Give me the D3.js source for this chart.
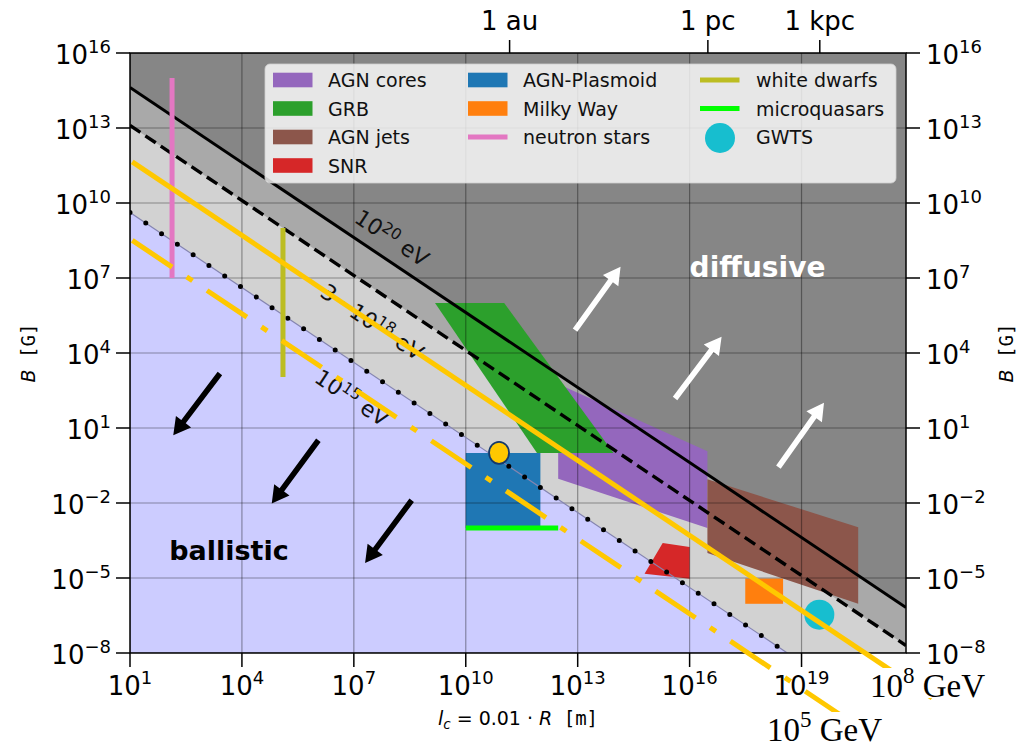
<!DOCTYPE html>
<html>
<head>
<meta charset="utf-8">
<script src="https://cdn.jsdelivr.net/npm/d3@7"></script>
<style>
  body { margin: 0; background: #ffffff; }
  svg { display: block; font-family: "DejaVu Sans", sans-serif; }
</style>
</head>
<body>
<svg id="chart" width="1019" height="747"></svg>
<script>
// ---------- data ----------
const lcRange = [10, 6.31e21];           // l_c = 0.01 R  [m]
const bRange = [1e-8, 1e16];             // B [G]
const xTickExps = [1, 4, 7, 10, 13, 16, 19];
const yTickExps = [-8, -5, -2, 1, 4, 7, 10, 13, 16];
const topTickLabels = ["1 au", "1 pc", "1 kpc"];
const topTickValues = [1.496e11, 3.086e16, 3.086e19];

// Hillas boundaries r_g = l_c : B at the two ends of the l_c range
const boundaryBStart = [4.17e14, 1.26e13, 4.17e9];   // 1e20 eV, 3e18 eV, 1e15 eV
const boundaryBEnd = [6.6e-7, 2.0e-8, 6.6e-12];
const boundaryLabelMain = ["10", "3 · 10", "10"];
const boundaryLabelSup = ["20", "18", "15"];
const boundaryLabelL = [1.05e8, 3.1e7, 8.9e6];
const boundaryLabelB = [4.0e8, 1.74e5, 1.6e2];

// proton energies in GeV
const gevLineL = [[11.5, 3.16e22], [11.5, 3.16e20]];
const gevLineB = [[4.4e11, 1.6e-10], [3.2e8, 1.17e-11]];
const gevLabelSup = ["8", "5"];

// source classes
const agnCores = [[3e12, 575], [3e16, 1.17], [3e16, 1e-3], [3e12, 0.093]];
const grb = [[1.5e9, 1e6], [1.07e11, 1e6], [9.1e13, 1], [8.1e11, 1]];
const agnJets = [[3e16, 0.089], [3.3e20, 1.07e-3], [3.3e20, 9.3e-7], [3e16, 1e-4]];
const snr = [[1.9e15, 2.5e-4], [1e16, 1.74e-4], [1e16, 9.3e-6], [6.2e14, 1.48e-5]];
const agnPlasmoid = [[1e10, 1e-3], [1e12, 1]];       // [l_min, B_min], [l_max, B_max]
const milkyWay = [[3.1e17, 9.3e-7], [3.2e18, 9.5e-6]];
const neutronStars = [[1.34e2, 1e7], [1.34e2, 1e15]];
const whiteDwarfs = [[1.26e5, 1.1e3], [1.26e5, 1e9]];
const microquasars = [[1e10, 1e-3], [3e12, 1e-3]];
const gwts = [3e19, 3.4e-7];
const plasmoidMarker = [7.8e10, 1.02];

// regime arrows: [tail, tip]
const ballisticArrows = [
  [[2570, 1514], [144.5, 5.13]],
  [[1.12e6, 3.24], [6.3e4, 9.5e-3]],
  [[3.55e8, 1.29e-2], [2.0e7, 4.0e-5]]
];
const diffusiveArrows = [
  [[8.5e12, 8.3e4], [1.41e14, 2.8e7]],
  [[4.07e15, 151], [7.2e16, 4.5e4]],
  [[2.4e18, 0.275], [4.0e19, 102]]
];
const regimeLabels = ["diffusive", "ballistic"];
const regimeLabelPos = [[1.0e16, 1.1e7], [112, 5.4e-5]];

const legendNames = [
  ["AGN cores", "GRB", "AGN jets", "SNR"],
  ["AGN-Plasmoid", "Milky Way", "neutron stars"],
  ["white dwarfs", "microquasars", "GWTS"]
];

// ---------- layout ----------
const pLeft = 130, pRight = 906, pTop = 53, pBottom = 653;
const svg = d3.select("#chart");
const x = d3.scaleLog().domain(lcRange).range([pLeft, pRight]);
const y = d3.scaleLog().domain(bRange).range([pBottom, pTop]);

const colors = {
  "AGN cores": "#9467bd", "GRB": "#2ca02c", "AGN jets": "#8c564b", "SNR": "#d62728",
  "AGN-Plasmoid": "#1f77b4", "Milky Way": "#ff7f0e", "neutron stars": "#e377c2",
  "white dwarfs": "#bcbd22", "microquasars": "#00ff00", "GWTS": "#17becf"
};
const gold = "#ffc800";

svg.append("defs").append("clipPath").attr("id", "plotClip")
  .append("rect").attr("x", pLeft).attr("y", pTop).attr("width", pRight - pLeft).attr("height", pBottom - pTop);

const plot = svg.append("g").attr("clip-path", "url(#plotClip)");

// ---------- regime backgrounds ----------
plot.append("rect").attr("x", pLeft).attr("y", pTop).attr("width", pRight - pLeft).attr("height", pBottom - pTop)
  .attr("fill", "#868686");
const bandFills = ["#a9a9a9", "#d2d2d2", "#ccccff"];
const boundaryPts = boundaryBStart.map((b0, i) => [[lcRange[0], b0], [lcRange[1], boundaryBEnd[i]]]);
const below = d3.area().x(d => x(d[0])).y0(pBottom + 5).y1(d => y(d[1]));
boundaryPts.forEach((pts, i) => {
  plot.append("path").attr("d", below(pts)).attr("fill", bandFills[i]);
});

// ---------- source regions ----------
const poly = pts => "M" + pts.map(p => [x(p[0]), y(p[1])].join(",")).join("L") + "Z";
plot.append("path").attr("d", poly(agnCores)).attr("fill", colors["AGN cores"]);
plot.append("path").attr("d", poly(grb)).attr("fill", colors["GRB"]);
plot.append("path").attr("d", poly(agnJets)).attr("fill", colors["AGN jets"]);
plot.append("path").attr("d", poly(snr)).attr("fill", colors["SNR"]);
const box = (r, c) => plot.append("rect")
  .attr("x", x(r[0][0])).attr("y", y(r[1][1]))
  .attr("width", x(r[1][0]) - x(r[0][0])).attr("height", y(r[0][1]) - y(r[1][1]))
  .attr("fill", c);
box(agnPlasmoid, colors["AGN-Plasmoid"]);
box(milkyWay, colors["Milky Way"]);

// ---------- grid ----------
const grid = plot.append("g").attr("stroke", "#000").attr("stroke-opacity", 0.36).attr("stroke-width", 1.2);
xTickExps.forEach(e => grid.append("line").attr("x1", x(10 ** e)).attr("x2", x(10 ** e)).attr("y1", pTop).attr("y2", pBottom));
yTickExps.forEach(e => grid.append("line").attr("y1", y(10 ** e)).attr("y2", y(10 ** e)).attr("x1", pLeft).attr("x2", pRight));

// ---------- Hillas boundary lines ----------
const line = d3.line().x(d => x(d[0])).y(d => y(d[1]));
plot.append("path").attr("d", line(boundaryPts[0])).attr("fill", "none").attr("stroke", "#000").attr("stroke-width", 3);
plot.append("path").attr("d", line(boundaryPts[1])).attr("fill", "none").attr("stroke", "#000").attr("stroke-width", 3.4)
  .attr("stroke-dasharray", "12.5 6");
plot.append("path").attr("d", line(boundaryPts[2])).attr("fill", "none").attr("stroke", "#8585b0").attr("stroke-width", 1.2);
plot.append("path").attr("d", line(boundaryPts[2])).attr("fill", "none").attr("stroke", "#000").attr("stroke-width", 5)
  .attr("stroke-linecap", "round").attr("stroke-dasharray", "0 19");

// vertical / horizontal source lines
const seg = (pts, c) => plot.append("path").attr("d", line(pts)).attr("fill", "none").attr("stroke", c).attr("stroke-width", 5);
seg(neutronStars, colors["neutron stars"]);
seg(whiteDwarfs, colors["white dwarfs"]);
seg(microquasars, colors["microquasars"]);

plot.append("circle").attr("cx", x(gwts[0])).attr("cy", y(gwts[1])).attr("r", 15).attr("fill", colors["GWTS"]);

// ---------- boundary labels ----------
const angle = Math.atan2(y(1e-1) - y(1), x(10) - x(1)) * 180 / Math.PI;
boundaryLabelMain.forEach((m, i) => {
  const t = plot.append("text")
    .attr("transform", `translate(${x(boundaryLabelL[i])},${y(boundaryLabelB[i])}) rotate(${angle})`)
    .attr("text-anchor", "middle").attr("dy", "0.35em").attr("font-size", 22).attr("fill", "#111");
  t.append("tspan").text(m);
  t.append("tspan").attr("dy", -8).attr("font-size", 15.5).text(boundaryLabelSup[i]);
  t.append("tspan").attr("dy", 8).text(" eV");
});

// ---------- regime labels & arrows ----------
plot.append("text").attr("x", x(regimeLabelPos[0][0])).attr("y", y(regimeLabelPos[0][1]))
  .attr("font-size", 28).attr("font-weight", "bold").attr("fill", "#fff").text(regimeLabels[0]);
plot.append("text").attr("x", x(regimeLabelPos[1][0])).attr("y", y(regimeLabelPos[1][1]))
  .attr("font-size", 27).attr("font-weight", "bold").attr("fill", "#000").text(regimeLabels[1]);

function arrowPoints(a) {
  const x0 = x(a[0][0]), y0 = y(a[0][1]), x1 = x(a[1][0]), y1 = y(a[1][1]);
  const L = Math.hypot(x1 - x0, y1 - y0), ux = (x1 - x0) / L, uy = (y1 - y0) / L, px = -uy, py = ux;
  const sw = 2.8, hw = 9.5, hl = 17;
  const bx = x1 - ux * hl, by = y1 - uy * hl;
  return [[x0 + px * sw, y0 + py * sw], [bx + px * sw, by + py * sw], [bx + px * hw, by + py * hw], [x1, y1],
          [bx - px * hw, by - py * hw], [bx - px * sw, by - py * sw], [x0 - px * sw, y0 - py * sw]];
}
ballisticArrows.forEach(a => plot.append("polygon").attr("points", arrowPoints(a).join(" ")).attr("fill", "#000"));
diffusiveArrows.forEach(a => plot.append("polygon").attr("points", arrowPoints(a).join(" ")).attr("fill", "#fff"));

// ---------- legend ----------
const lg = svg.append("g");
lg.append("rect").attr("x", 265).attr("y", 64).attr("width", 631).attr("height", 119).attr("rx", 5)
  .attr("fill", "#fff").attr("fill-opacity", 0.8).attr("stroke", "#cfcfcf").attr("stroke-opacity", 0.8);
const colHandleX = [273, 468, 700], colTextX = [328, 523, 756];
const patchNames = ["AGN cores", "GRB", "AGN jets", "SNR", "AGN-Plasmoid", "Milky Way"];
legendNames.forEach((col, ci) => col.forEach((name, ri) => {
  const cy = 80 + ri * 28.5;
  if (patchNames.includes(name)) {
    lg.append("rect").attr("x", colHandleX[ci]).attr("y", cy - 7.3).attr("width", 39.5).attr("height", 14.6).attr("fill", colors[name]);
  } else if (name === "GWTS") {
    lg.append("circle").attr("cx", colHandleX[ci] + 20).attr("cy", cy + 1).attr("r", 15).attr("fill", colors[name]);
  } else {
    lg.append("line").attr("x1", colHandleX[ci]).attr("x2", colHandleX[ci] + 39.5).attr("y1", cy).attr("y2", cy)
      .attr("stroke", colors[name]).attr("stroke-width", 5);
  }
  lg.append("text").attr("x", colTextX[ci]).attr("y", cy + 7).attr("font-size", 19).attr("fill", "#111").text(name);
}));

// ---------- axes frame & ticks ----------
svg.append("rect").attr("x", pLeft).attr("y", pTop).attr("width", pRight - pLeft).attr("height", pBottom - pTop)
  .attr("fill", "none").attr("stroke", "#000").attr("stroke-width", 1.5);
const ticks = svg.append("g").attr("stroke", "#000").attr("stroke-width", 1.5);
const tl = 14;
yTickExps.forEach(e => {
  const yy = y(10 ** e);
  ticks.append("line").attr("x1", pLeft - tl).attr("x2", pLeft).attr("y1", yy).attr("y2", yy);
  ticks.append("line").attr("x1", pRight).attr("x2", pRight + tl).attr("y1", yy).attr("y2", yy);
});
xTickExps.forEach(e => {
  const xx = x(10 ** e);
  ticks.append("line").attr("x1", xx).attr("x2", xx).attr("y1", pBottom).attr("y2", pBottom + tl);
});
topTickValues.forEach(v => ticks.append("line").attr("x1", x(v)).attr("x2", x(v)).attr("y1", pTop - 13).attr("y2", pTop));

const expText = e => (e < 0 ? "\u2212" + (-e) : String(e));
function powLabel(sel, e) {
  sel.append("tspan").text("10");
  sel.append("tspan").attr("dy", -11).attr("font-size", 18).text(expText(e));
}
yTickExps.forEach(e => {
  powLabel(svg.append("text").attr("x", pLeft - 19).attr("y", y(10 ** e) + 11).attr("text-anchor", "end")
    .attr("font-size", 26).attr("fill", "#000"), e);
  powLabel(svg.append("text").attr("x", pRight + 20).attr("y", y(10 ** e) + 11).attr("text-anchor", "start")
    .attr("font-size", 26).attr("fill", "#000"), e);
});
xTickExps.forEach(e => {
  powLabel(svg.append("text").attr("x", x(10 ** e)).attr("y", 695).attr("text-anchor", "middle")
    .attr("font-size", 26).attr("fill", "#000"), e);
});
topTickLabels.forEach((t, i) => svg.append("text").attr("x", x(topTickValues[i])).attr("y", 30)
  .attr("text-anchor", "middle").attr("font-size", 26).attr("fill", "#000").text(t));

// axis titles
function bTitle(px) {
  const t = svg.append("text").attr("transform", `translate(${px},${(pTop + pBottom) / 2}) rotate(-90)`)
    .attr("text-anchor", "middle").attr("font-size", 19).attr("fill", "#000");
  t.append("tspan").attr("font-style", "italic").text("B");
  t.append("tspan").attr("font-family", "DejaVu Sans Mono").text(" [G]");
}
bTitle(35);
bTitle(1013);
const xt = svg.append("text").attr("x", (pLeft + pRight) / 2).attr("y", 725).attr("text-anchor", "middle")
  .attr("font-size", 19).attr("fill", "#000");
xt.append("tspan").attr("font-style", "italic").text("l");
xt.append("tspan").attr("font-style", "italic").attr("font-size", 13.5).attr("dy", 4).text("c");
xt.append("tspan").attr("dy", -4).text(" = 0.01 · ");
xt.append("tspan").attr("font-style", "italic").text("R");
xt.append("tspan").attr("font-family", "DejaVu Sans Mono").text(" [m]");

// ---------- proton energy overlay ----------
const over = svg.append("g");
over.append("path").attr("d", line(gevLineL[0].map((l, i) => [l, gevLineB[0][i]])))
  .attr("fill", "none").attr("stroke", gold).attr("stroke-width", 5);
over.append("path").attr("d", line(gevLineL[1].map((l, i) => [l, gevLineB[1][i]])))
  .attr("fill", "none").attr("stroke", gold).attr("stroke-width", 5).attr("stroke-dasharray", "48 17.5 7 17.5");
over.append("ellipse").attr("cx", x(plasmoidMarker[0])).attr("cy", y(plasmoidMarker[1])).attr("rx", 10).attr("ry", 11)
  .attr("fill", gold).attr("stroke", "#14396b").attr("stroke-width", 1.8);

const gevBoxes = [[866, 668, 130, 30], [764, 712, 130, 35]];
const gevText = [[870, 697], [767, 741]];
gevLabelSup.forEach((s, i) => {
  const b = gevBoxes[i];
  over.append("rect").attr("x", b[0]).attr("y", b[1]).attr("width", b[2]).attr("height", b[3]).attr("fill", "#fff");
  const t = over.append("text").attr("x", gevText[i][0]).attr("y", gevText[i][1])
    .style("font-family", "'Liberation Serif', 'Times New Roman', serif").attr("font-size", 33).attr("fill", "#000");
  t.append("tspan").text("10");
  t.append("tspan").attr("dy", -14).attr("font-size", 23).text(s);
  t.append("tspan").attr("dy", 14).text(" GeV");
});
</script>
</body>
</html>
